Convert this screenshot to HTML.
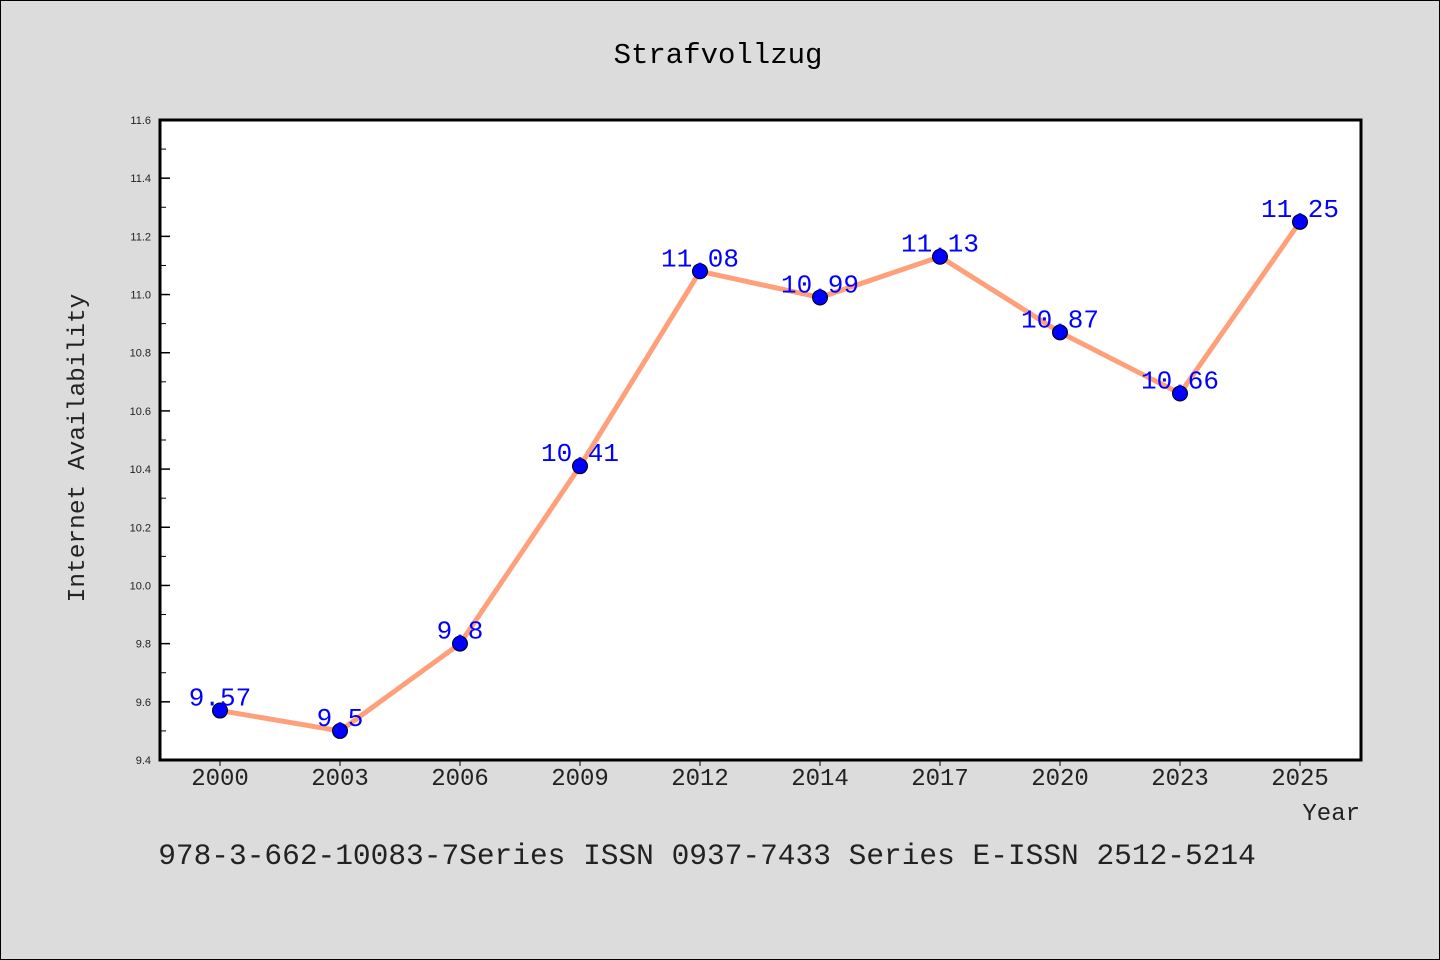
<!DOCTYPE html>
<html><head><meta charset="utf-8">
<style>
html,body{margin:0;padding:0;background:#dcdcdc;}
svg{display:block;font-family:"Liberation Mono",monospace;}
</style></head>
<body>
<svg id="chart" width="1440" height="960" xmlns="http://www.w3.org/2000/svg">
<rect x="0.5" y="0.5" width="1439" height="959" fill="#dcdcdc" stroke="#000" stroke-width="1"/>
<text x="718" y="63" font-size="29" text-anchor="middle" fill="#000">Strafvollzug</text>
<rect x="160" y="120" width="1201" height="640" fill="#fff"/>
<g id="axes"></g>
<g id="series"></g>
<rect x="160" y="120" width="1201" height="640" fill="none" stroke="#000" stroke-width="3"/>
<text x="84" y="448" font-size="24.5" text-anchor="middle" transform="rotate(-90 84 448)" fill="#222">Internet Availability</text>
<text x="1360" y="820" font-size="24" text-anchor="end" fill="#222">Year</text>
<text x="707" y="864" font-size="29.5" text-anchor="middle" fill="#222">978-3-662-10083-7Series ISSN 0937-7433 Series E-ISSN 2512-5214</text>
</svg>
<script>
const categories = ["2000","2003","2006","2009","2012","2014","2017","2020","2023","2025"];
const values = [9.57, 9.5, 9.8, 10.41, 11.08, 10.99, 11.13, 10.87, 10.66, 11.25];
const valueLabels = ["9.57","9.5","9.8","10.41","11.08","10.99","11.13","10.87","10.66","11.25"];
const yTicks = ["9.4","9.6","9.8","10.0","10.2","10.4","10.6","10.8","11.0","11.2","11.4","11.6"];
const yMin = 9.4, yMax = 11.6;
(function(){
const NS = "http://www.w3.org/2000/svg";
const pLeft = 160, pTop = 120, pBottom = 760;
function xPos(i){ return 220 + i * (1300 - 220) / (categories.length - 1); }
function yPos(v){ return pBottom - (v - yMin) / (yMax - yMin) * (pBottom - pTop); }
function mk(tag, attrs){ const e = document.createElementNS(NS, tag); for (const k in attrs) e.setAttribute(k, attrs[k]); return e; }
const axes = document.getElementById("axes");
const series = document.getElementById("series");
yTicks.forEach((t, i) => {
  const v = parseFloat(t), y = yPos(v);
  const tk = mk("line", {x1: pLeft, x2: pLeft + 10, y1: y, y2: y, stroke: "#000", "stroke-width": 1.5});
  
  
  axes.appendChild(tk);
  const lb = mk("text", {x: 151, y: y + 4, "font-size": 11, "text-anchor": "end", fill: "#222", "font-family": "Liberation Sans, sans-serif"});
  lb.textContent = t;
  
  
  axes.appendChild(lb);
  if (i < yTicks.length - 1) {
    const ym = yPos(v + 0.1);
    const mn = mk("line", {x1: pLeft, x2: pLeft + 6, y1: ym, y2: ym, stroke: "#000", "stroke-width": 1});
    
    
    axes.appendChild(mn);
  }
});
categories.forEach((c, i) => {
  const x = xPos(i);
  const tk = mk("line", {x1: x, x2: x, y1: pBottom, y2: pBottom + 6, stroke: "#000", "stroke-width": 1});
  
  
  axes.appendChild(tk);
  const lb = mk("text", {x: x, y: 785, "font-size": 24, "text-anchor": "middle", fill: "#222"});
  lb.textContent = c;
  
  
  axes.appendChild(lb);
});
const pts = values.map((v, i) => xPos(i) + "," + yPos(v)).join(" ");
const line = mk("polyline", {points: pts, fill: "none", stroke: "#ffa07a", "stroke-width": 5, "stroke-linejoin": "round"});


series.appendChild(line);
values.forEach((v, i) => {
  const c = mk("circle", {cx: xPos(i), cy: yPos(v), r: 7.5, fill: "#0000ff", stroke: "#000", "stroke-width": 1});
  
  
  series.appendChild(c);
  const t = mk("text", {x: xPos(i), y: yPos(v) - 5, "font-size": 26, "text-anchor": "middle", fill: "#0000ff"});
  t.textContent = valueLabels[i];
  
  
  series.appendChild(t);
});
})();
</script>
</body></html>
